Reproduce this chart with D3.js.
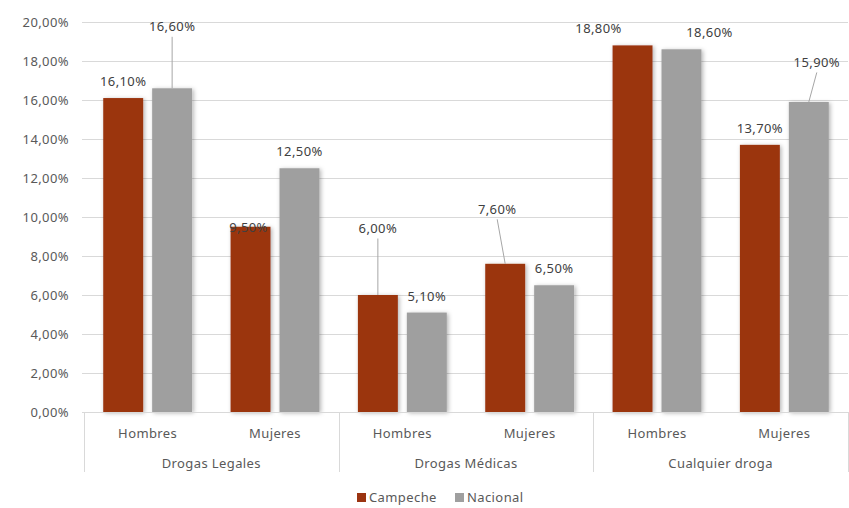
<!DOCTYPE html>
<html>
<head>
<meta charset="utf-8">
<script src="https://cdn.jsdelivr.net/npm/d3@7"></script>
<style>
  html, body { margin: 0; padding: 0; background: #ffffff; }
  svg { display: block; font-family: "Noto Sans", "Lato", sans-serif; }
</style>
</head>
<body>
<svg id="chart" width="849" height="508"></svg>
<script>
// ---- data ----
const groups = ["Drogas Legales", "Drogas Médicas", "Cualquier droga"];
const subcats = ["Hombres", "Mujeres"];
const series = ["Campeche", "Nacional"];
const campeche = [16.1, 9.5, 6.0, 7.6, 18.8, 13.7];
const nacional = [16.6, 12.5, 5.1, 6.5, 18.6, 15.9];
const yTicks = [0, 2, 4, 6, 8, 10, 12, 14, 16, 18, 20];
// label nudges (px) for callout-style labels, per series
const campecheLabelShift = [[0, 0], [-2, 17], [0, -50], [-8, -38], [-34, 0], [0, 0]];
const nacionalLabelShift = [[0, -45], [0, 0], [0, 0], [0, 0], [28, 0], [8, -23]];

const colors = { Campeche: "#9b3411", Nacional: "#9f9f9f" };
const textColor = "#595959";
const gridColor = "#d9d9d9";

const fmt = v => v.toFixed(2).replace(".", ",") + "%";

const rows = [];
groups.forEach((g, gi) => subcats.forEach((s, si) => {
  const i = gi * 2 + si;
  rows.push({ key: g + "|" + s, group: g, sub: s, i,
    values: [
      { series: "Campeche", v: campeche[i], shift: campecheLabelShift[i] },
      { series: "Nacional", v: nacional[i], shift: nacionalLabelShift[i] }
    ] });
}));

const svg = d3.select("#chart");
const pLeft = 84, pRight = 848, pTop = 22, pBottom = 412;

const defs = svg.append("defs");
const f = defs.append("filter").attr("id", "shadow")
  .attr("x", "-20%").attr("y", "-10%").attr("width", "150%").attr("height", "130%");
f.append("feDropShadow").attr("dx", 1.5).attr("dy", 1).attr("stdDeviation", 2)
  .attr("flood-color", "#000").attr("flood-opacity", 0.3);

const y = d3.scaleLinear().domain([0, 20]).range([pBottom, pTop]);
const x0 = d3.scaleBand().domain(rows.map(r => r.key)).range([pLeft, pRight]).padding(0);
const x1 = d3.scaleBand().domain(series).range([0, x0.bandwidth()])
  .paddingInner(0.184).paddingOuter(0.393);

// gridlines
svg.append("g").selectAll("line").data(yTicks).join("line")
  .attr("x1", pLeft - 2).attr("x2", pRight)
  .attr("y1", d => Math.round(y(d)) + 0.5).attr("y2", d => Math.round(y(d)) + 0.5)
  .attr("stroke", gridColor).attr("stroke-width", 1);

// y tick labels
svg.append("g").selectAll("text").data(yTicks).join("text")
  .attr("x", 69).attr("y", d => y(d)).attr("dy", "0.35em")
  .attr("text-anchor", "end").attr("font-size", 13).attr("letter-spacing", 0.4)
  .attr("fill", textColor).text(d => fmt(d));

// bars
const barG = svg.append("g").selectAll("g").data(rows).join("g")
  .attr("transform", d => `translate(${x0(d.key)},0)`);
barG.selectAll("rect").data(d => d.values).join("rect")
  .attr("x", d => x1(d.series)).attr("width", x1.bandwidth())
  .attr("y", d => y(d.v)).attr("height", d => y(0) - y(d.v))
  .attr("fill", d => colors[d.series]).attr("filter", "url(#shadow)");

// leader lines
barG.selectAll("line.leader").data(d => d.values.filter(v => v.shift[1] < -20)).join("line")
  .attr("class", "leader")
  .attr("x1", d => x1(d.series) + x1.bandwidth() / 2)
  .attr("y1", d => y(d.v))
  .attr("x2", d => x1(d.series) + x1.bandwidth() / 2 + d.shift[0])
  .attr("y2", d => y(d.v) - 16.5 + d.shift[1] + 10)
  .attr("stroke", "#a6a6a6").attr("stroke-width", 1);

// value labels
barG.selectAll("text.val").data(d => d.values).join("text")
  .attr("class", "val")
  .attr("x", d => x1(d.series) + x1.bandwidth() / 2 + d.shift[0])
  .attr("y", d => y(d.v) - 16.5 + d.shift[1]).attr("dy", "0.35em")
  .attr("text-anchor", "middle").attr("font-size", 13).attr("letter-spacing", 0.4)
  .attr("fill", "#404040").text(d => fmt(d.v));

// category axis
const axisG = svg.append("g");
axisG.append("line").attr("x1", pLeft).attr("x2", pRight)
  .attr("y1", pBottom + 0.5).attr("y2", pBottom + 0.5).attr("stroke", gridColor);
const boundaries = [0, 2, 4, 6].map(k => k < 6 ? x0(rows[k].key) : pRight);
axisG.selectAll("line.sep").data(boundaries).join("line").attr("class", "sep")
  .attr("x1", d => Math.round(d) + 0.5).attr("x2", d => Math.round(d) + 0.5)
  .attr("y1", pBottom).attr("y2", 472).attr("stroke", gridColor);
axisG.selectAll("text.sub").data(rows).join("text").attr("class", "sub")
  .attr("x", d => x0(d.key) + x0.bandwidth() / 2).attr("y", 433).attr("dy", "0.35em")
  .attr("text-anchor", "middle").attr("font-size", 13).attr("letter-spacing", 0.4)
  .attr("fill", textColor).text(d => d.sub);
axisG.selectAll("text.grp").data(groups).join("text").attr("class", "grp")
  .attr("x", (d, i) => (x0(rows[i * 2].key) + x0(rows[i * 2 + 1].key) + x0.bandwidth()) / 2)
  .attr("y", 463).attr("dy", "0.35em")
  .attr("text-anchor", "middle").attr("font-size", 13).attr("letter-spacing", 0.4)
  .attr("fill", textColor).text(d => d);

// legend
const legend = svg.append("g");
const legendX = [357, 455];
series.forEach((s, i) => {
  legend.append("rect").attr("x", legendX[i]).attr("y", 493).attr("width", 9).attr("height", 9)
    .attr("fill", colors[s]);
  legend.append("text").attr("x", legendX[i] + 12).attr("y", 497.5).attr("dy", "0.35em")
    .attr("font-size", 13).attr("letter-spacing", 0.4).attr("fill", textColor).text(s);
});
</script>
</body>
</html>
